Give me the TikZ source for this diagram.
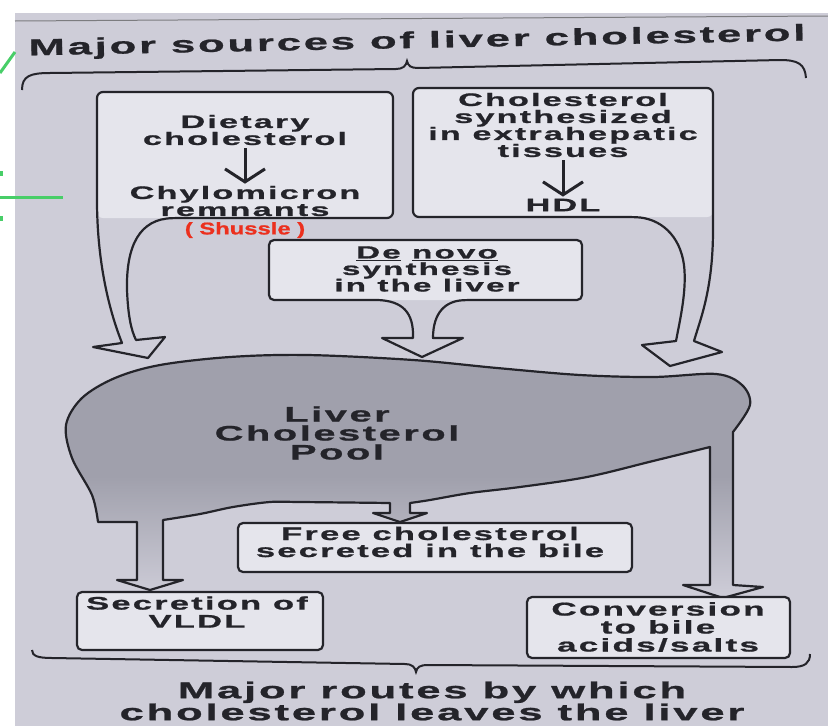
\documentclass[tikz,border=0pt]{standalone}
\usepackage{xcolor}
\usepackage{fontspec}
\usepackage{tikz}
\usetikzlibrary{arrows.meta,positioning}

\newfontfamily\widefont{Liberation Sans}[FakeStretch=1.9,LetterSpace=12,FakeBold=1]
\newfontfamily\handfont{Liberation Sans}[FakeStretch=1.4,FakeBold=1]

\definecolor{paper}{RGB}{206,205,216}
\definecolor{boxfill}{RGB}{229,229,236}
\definecolor{liverfill}{RGB}{160,160,172}
\definecolor{inkline}{RGB}{36,36,42}
\definecolor{pen}{RGB}{236,48,30}
\definecolor{marker}{RGB}{72,206,104}

\begin{document}
\begin{tikzpicture}[
    x=1pt, y=-1pt,
    shapeline/.style={line width=2.2pt, draw=inkline, line join=round},
    braceline/.style={line width=2pt, draw=inkline},
    boxtext/.style={text=inkline, align=center, inner sep=0pt,
        font=\widefont\bfseries\fontsize{18}{17}\selectfont},
    bigtext/.style={boxtext, font=\widefont\bfseries\fontsize{23}{22}\selectfont},
    stemarrow/.style={line width=3pt, draw=inkline,
        -{Straight Barb[length=13pt,width=40pt]}, shorten <=3pt, shorten >=2pt},
    pennote/.style={text=pen, inner sep=0pt, font=\handfont\bfseries\fontsize{17}{17}\selectfont}
    ]
    \useasboundingbox (0,0) rectangle (828,726);
    \fill[paper] (15,13) rectangle (828,726);
    \draw[inkline!60, line width=1pt] (15,21) -- (828,16);

    % margin marks
    \draw[marker, line width=3pt] (0,73) -- (15,52);
    \draw[marker, line width=3pt] (0,197) -- (63,197);
    \fill[marker] (0,171) rectangle (3,176);
    \fill[marker] (0,216) rectangle (3,221);

    % sources
    \node[bigtext, rotate=1.1] (sources) at (417,42) {Major sources of liver cholesterol};
    \draw[braceline] (22,90) .. controls (22,76) and (30,73) .. (50,73) -- (396,69)
        .. controls (403,69) and (406,66) .. (407,61)
        .. controls (408,66) and (411,68) .. (418,68) -- (780,60)
        .. controls (798,60) and (805,64) .. (806,78);

    \fill[boxfill, rounded corners=6pt] (97,92) rectangle (393,218);
    \draw[shapeline]
        (122,343) .. controls (105,300) and (97,250) .. (97,200)
        [rounded corners=6pt] -- (97,92) -- (393,92) -- (393,218) -- (178,218)
        [sharp corners] .. controls (140,219) and (126,245) .. (127,290)
        .. controls (128,315) and (131,330) .. (136,340)
        -- (165,337) -- (148,358) -- (93,347) -- cycle;

    \fill[boxfill, rounded corners=6pt] (413,88) rectangle (713,217);
    \draw[shapeline]
        (694,341) .. controls (700,320) and (713,290) .. (713,230)
        [rounded corners=6pt] -- (713,88) -- (413,88) -- (413,217) -- (630,217)
        [sharp corners] .. controls (660,218) and (680,235) .. (684,265)
        .. controls (687,290) and (680,320) .. (676,341)
        -- (642,345) -- (670,366) -- (722,352) -- cycle;

    \fill[boxfill, rounded corners=5pt] (269,240) rectangle (582,300);
    \draw[shapeline]
        (413,338) .. controls (414,312) and (402,301) .. (378,300)
        [rounded corners=5pt] -- (269,300) -- (269,240) -- (582,240) -- (582,300) -- (468,300)
        [sharp corners] .. controls (446,301) and (433,312) .. (433,338)
        -- (463,338) -- (422,357) -- (382,338) -- cycle;

    \node[boxtext] (diet) at (245,130) {Dietary\\cholesterol};
    \node[boxtext] (chylo) at (245,201) {Chylomicron\\remnants};
    \draw[stemarrow] (diet) -- (chylo);
    \node[pennote] (shuttle) at (245,230) {( Shussle )};

    \node[boxtext] (extra) at (563,125)
        {Cholesterol\\synthesized\\in extrahepatic\\tissues};
    \node[boxtext] (hdl) at (563,205) {HDL};
    \draw[stemarrow] (extra) -- (hdl);

    \node[boxtext, font=\widefont\bfseries\fontsize{17.5}{16.5}\selectfont] (denovo) at (427,269)
        {\underline{De} \underline{novo}\\synthesis\\in the liver};

    % liver pool
    \draw[shapeline, top color=liverfill, bottom color=paper, middle color=liverfill]
        plot[smooth, tension=0.55] coordinates {(98,522) (92,495) (72,458) (66,425) (82,398)
            (115,378) (160,365) (230,357) (307,355) (413,360) (497,368) (580,375)
            (653,377) (716,374) (742,385) (750,405) (733,432)}
        -- (733,585) -- (763,587) -- (723,598) -- (683,585) -- (710,585) -- (710,447)
        -- plot[smooth, tension=0.55] coordinates {(710,447) (653,461) (587,477) (520,487)
            (470,493) (430,500) (410,503)}
        -- (410,513) -- (427,513) -- (400,522) -- (373,513) -- (390,513) -- (390,503)
        -- plot[smooth, tension=0.55] coordinates {(390,503) (300,502) (270,502) (233,507)
            (200,514) (163,520)}
        -- (163,580) -- (183,580) -- (150,590) -- (117,580) -- (137,580) -- (137,522) -- cycle;
    \node[boxtext, font=\widefont\bfseries\fontsize{21}{19}\selectfont] (pool) at (337,433)
        {Liver\\Cholesterol\\Pool};

    % routes out
    \draw[shapeline, fill=boxfill, rounded corners=5pt] (238,523) rectangle (632,572);
    \node[boxtext, font=\widefont\bfseries\fontsize{18.2}{17}\selectfont] (free) at (430,542)
        {Free cholesterol\\secreted in the bile};

    \draw[shapeline, fill=boxfill, rounded corners=5pt] (77,592) rectangle (323,650);
    \node[boxtext, font=\widefont\bfseries\fontsize{18.2}{18}\selectfont] (vldl) at (197,612)
        {Secretion of\\VLDL};

    \draw[shapeline, fill=boxfill, rounded corners=5pt] (527,597) rectangle (790,658);
    \node[boxtext, font=\widefont\bfseries\fontsize{18.5}{18}\selectfont] (conv) at (658,627)
        {Conversion\\to bile\\acids/salts};

    \draw[braceline] (32,650) .. controls (32,656) and (38,658) .. (52,658) -- (405,664)
        .. controls (412,664) and (415,667) .. (416,672)
        .. controls (417,667) and (420,665) .. (428,665) -- (792,667)
        .. controls (805,667) and (810,663) .. (810,654);
    \node[bigtext] (routes) at (432,701) {Major routes by which\\cholesterol leaves the liver};
\end{tikzpicture}
\end{document}
